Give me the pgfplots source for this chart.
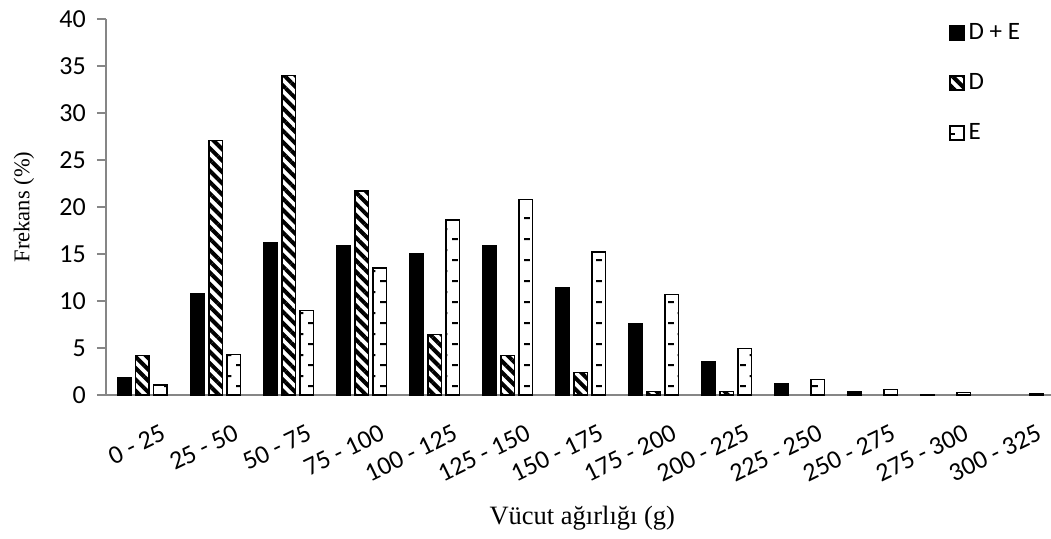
\documentclass[border=0pt]{standalone}
\usepackage{fontspec}
\setmainfont{Carlito}
\newfontfamily\timesf{Liberation Serif}
\usepackage{pgfplots}
\pgfplotsset{compat=1.18}
\usetikzlibrary{patterns,patterns.meta}
\definecolor{axgray}{RGB}{134,134,134}
\pgfdeclarepatternformonly{hdashes}{\pgfqpoint{0pt}{0pt}}{\pgfqpoint{18.25pt}{21pt}}{\pgfqpoint{18.25pt}{21pt}}{%
  \pgfsetlinewidth{2pt}%
  \pgfpathmoveto{\pgfqpoint{0pt}{5pt}}\pgfpathlineto{\pgfqpoint{6pt}{5pt}}%
  \pgfpathmoveto{\pgfqpoint{10pt}{15.5pt}}\pgfpathlineto{\pgfqpoint{14pt}{15.5pt}}%
  \pgfusepath{stroke}}
\begin{document}
\begin{tikzpicture}
\begin{axis}[
  name=ax,
  scale only axis,
  width=945pt, height=376pt,
  xmin=-0.5, xmax=12.445,
  ymin=0, ymax=40,
  ytick={0,5,...,40},
  xtick={0,...,12},
  xticklabels={0 - 25,25 - 50,50 - 75,75 - 100,100 - 125,125 - 150,150 - 175,175 - 200,200 - 225,225 - 250,250 - 275,275 - 300,300 - 325},
  axis x line*=bottom, axis y line*=left,
  axis line style={axgray, line width=1.5pt},
  x tick style={draw=none},
  y tick style={axgray, line width=1.2pt, xshift=-9pt},
  tick align=inside,
  major tick length=9pt,
  /pgf/number format/assume math mode=true,
  yticklabel style={font=\fontsize{26}{30}\selectfont, inner sep=2pt, anchor=east, xshift=-18pt},
  xticklabel style={font=\fontsize{26}{30}\selectfont, inner sep=2pt, rotate=26, anchor=east, xshift=8.8pt, yshift=-34pt},
  xlabel={\timesf Vücut ağırlığı (g)},
  ylabel={\timesf Frekans (\%)},
  xlabel style={font=\fontsize{26.5}{31}\selectfont, at={(axis description cs:0.504,-0.3457)}, anchor=base},
  ylabel style={font=\fontsize{22.5}{27}\selectfont, at={(axis description cs:-0.0868,0.5)}, anchor=center},
  ybar, bar width=13.5pt,
  every axis plot/.append style={line width=1.5pt},
  legend style={at={(axis description cs:0.892,1.003)}, anchor=north west, draw=none, fill=none,
    font=\fontsize{25}{29}\selectfont, row sep=20pt, inner sep=0pt,
    nodes={text height=17pt, text depth=5pt, inner sep=4pt}},
  legend cell align=left,
  legend image code/.code={\draw[#1, line width=1.5pt] (0pt,-7pt) rectangle (14pt,7pt);},
]
\addplot[draw=black, fill=black, bar shift=-18pt] coordinates {
(0,1.84) (1,10.8) (2,16.2) (3,15.85) (4,15.0) (5,15.9) (6,11.4) (7,7.6) (8,3.55) (9,1.15) (10,0.35) (11,0.05)};
\addplot[draw=black, pattern={Lines[angle=-45,distance=8pt,line width=4pt]}, pattern color=black, bar shift=0pt] coordinates {
(0,4.18) (1,27.1) (2,34.0) (3,21.7) (4,6.45) (5,4.2) (6,2.4) (7,0.35) (8,0.35)};
\addplot[draw=black, pattern=hdashes, pattern color=black, bar shift=18pt] coordinates {
(0,1.06) (1,4.3) (2,9.0) (3,13.5) (4,18.6) (5,20.8) (6,15.2) (7,10.7) (8,4.97) (9,1.67) (10,0.6) (11,0.28) (12,0.15)};
\legend{D + E, D, E}
\end{axis}
\pgfresetboundingbox
\path (ax.south west) ++(-106pt,-143pt) rectangle ++(1051pt,538pt);
\end{tikzpicture}
\end{document}
